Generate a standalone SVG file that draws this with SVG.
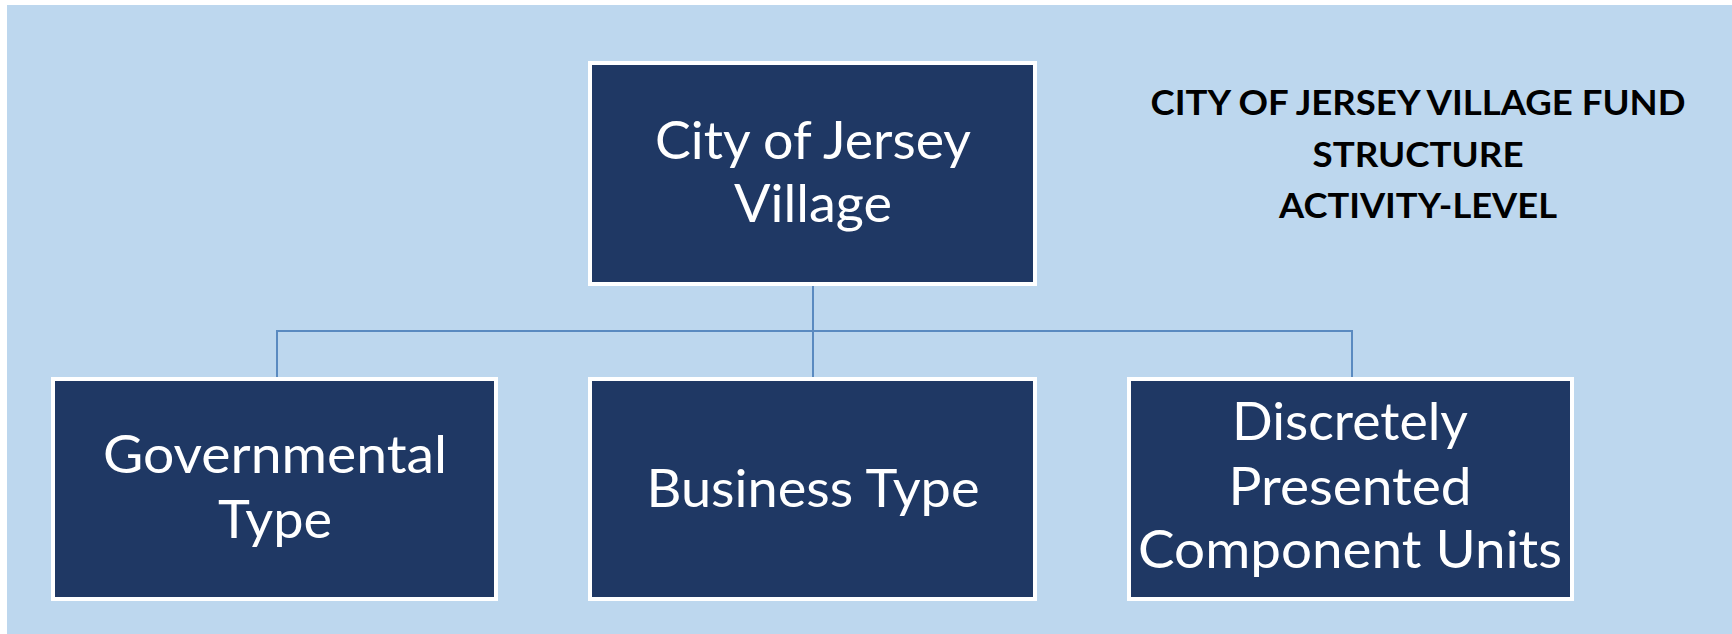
<svg xmlns="http://www.w3.org/2000/svg" width="1732" height="634" viewBox="0 0 1732 634">
  <style>
    .box { fill: #1F3864; stroke: #FFFFFF; stroke-width: 4; }
    .label { font-family: Lato, "Open Sans", "Liberation Sans", sans-serif; font-size: 52px; fill: #FFFFFF; text-anchor: middle; }
    .title { font-family: Lato, "Open Sans", "Liberation Sans", sans-serif; font-size: 35px; font-weight: bold; fill: #000000; text-anchor: middle; }
    .wire { fill: none; stroke: #5A8AC0; stroke-width: 2; }
  </style>

  <!-- page and panel -->
  <rect x="0" y="0" width="1732" height="634" fill="#FFFFFF"/>
  <rect x="7" y="5" width="1725" height="629" fill="#BDD7EE"/>

  <!-- title -->
  <g id="title">
    <text class="title" x="1418" y="115" textLength="535" lengthAdjust="spacingAndGlyphs">CITY OF JERSEY VILLAGE FUND</text>
    <text class="title" x="1418" y="167" textLength="211" lengthAdjust="spacingAndGlyphs">STRUCTURE</text>
    <text class="title" x="1418" y="218" textLength="278" lengthAdjust="spacingAndGlyphs">ACTIVITY-LEVEL</text>
  </g>

  <!-- connectors -->
  <g id="connectors">
    <path class="wire" d="M813 286 V331"/>
    <path class="wire" d="M277 377 V331 H1352 V377"/>
    <path class="wire" d="M813 331 V377"/>
  </g>

  <!-- root node -->
  <g id="node-city">
    <rect class="box" x="590" y="63" width="445" height="221"/>
    <text class="label" x="813" y="159" textLength="316" lengthAdjust="spacingAndGlyphs">City of Jersey</text>
    <text class="label" x="813" y="222" textLength="158" lengthAdjust="spacingAndGlyphs">Village</text>
  </g>

  <!-- child nodes -->
  <g id="node-governmental">
    <rect class="box" x="53" y="379" width="443" height="220"/>
    <text class="label" x="275" y="473" textLength="344" lengthAdjust="spacingAndGlyphs">Governmental</text>
    <text class="label" x="275" y="538" textLength="114" lengthAdjust="spacingAndGlyphs">Type</text>
  </g>

  <g id="node-business">
    <rect class="box" x="590" y="379" width="445" height="220"/>
    <text class="label" x="813" y="507" textLength="333" lengthAdjust="spacingAndGlyphs">Business Type</text>
  </g>

  <g id="node-component">
    <rect class="box" x="1129" y="379" width="443" height="220"/>
    <text class="label" x="1350" y="440" textLength="236" lengthAdjust="spacingAndGlyphs">Discretely</text>
    <text class="label" x="1350" y="505" textLength="243" lengthAdjust="spacingAndGlyphs">Presented</text>
    <text class="label" x="1350" y="568" textLength="424" lengthAdjust="spacingAndGlyphs">Component Units</text>
  </g>
</svg>
